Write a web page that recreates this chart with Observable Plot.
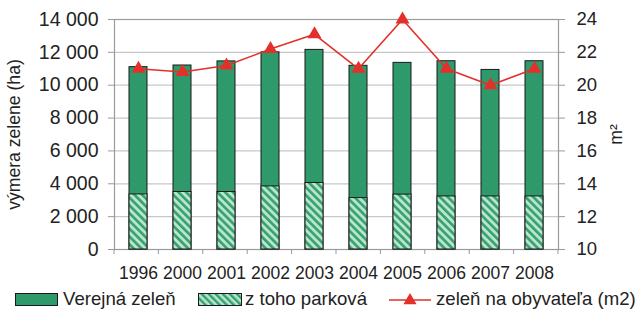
<!DOCTYPE html>
<html>
<head>
<meta charset="utf-8">
<script src="https://cdn.jsdelivr.net/npm/d3@7"></script>
<script src="https://cdn.jsdelivr.net/npm/@observablehq/plot@0.6"></script>
<style>
  body { margin: 0; background: #fff; font-family: "Liberation Sans", Arial, sans-serif; }
  #wrap { width: 643px; height: 311px; position: relative; overflow: hidden; }
  #legend { position: absolute; left: 0; top: 287px; height: 24px; width: 643px; font-size: 18.6px; color: #222; }
  .sw { position: absolute; top: 5px; }
  .lbl { position: absolute; top: 1px; line-height: 22px; white-space: nowrap; }
</style>
</head>
<body>
<div id="wrap"><div id="chart"></div><div id="legend"></div></div>
<script>
const years = ["1996","2000","2001","2002","2003","2004","2005","2006","2007","2008"];
const verejnaZelen = [11100, 11200, 11450, 12000, 12150, 11180, 11360, 11460, 10930, 11460];
const parkova = [3350, 3500, 3500, 3840, 4050, 3130, 3340, 3230, 3230, 3230];
const naObyvatela = [21.0, 20.8, 21.2, 22.2, 23.1, 21.0, 24.0, 21.0, 20.0, 21.0];
const leftTicks = [0, 2000, 4000, 6000, 8000, 10000, 12000, 14000];
const rightTicks = [10, 12, 14, 16, 18, 20, 22, 24];

const GREEN = "#2e9a6c";
const RED = "#e3302a";
const rows = years.map((y, i) => ({year: y, total: verejnaZelen[i], park: parkova[i], m2: naObyvatela[i]}));
// right axis (10..24 m2) mapped onto left scale (0..14000 ha)
const toLeft = v => (v - 10) * 1000;
const fromLeft = d => d / 1000 + 10;
const fmt = d => d3.format(",")(d).replace(/,/g, " ");

const W = 643, H = 287, ML = 114, MR = 85, MT = 19, MB = 38;

const bandTicks = (index, scales, values, dims) => {
  const g = d3.create("svg:g");
  const step = (dims.width - dims.marginLeft - dims.marginRight) / years.length;
  const y0 = dims.height - dims.marginBottom;
  for (let i = 0; i <= years.length; i++) {
    const x = dims.marginLeft + i * step;
    g.append("line").attr("x1", x).attr("x2", x).attr("y1", y0).attr("y2", y0 + 5)
      .attr("stroke", "#999").attr("stroke-width", 1);
  }
  return g.node();
};

const chart = Plot.plot({
  width: W, height: H,
  marginLeft: ML, marginRight: MR, marginTop: MT, marginBottom: MB,
  style: {fontFamily: "Liberation Sans, Arial, sans-serif", fontSize: "17.5px", color: "#222", background: "#fff"},
  x: {type: "band", domain: years, paddingInner: 0.595, paddingOuter: 0.2975},
  y: {domain: [0, 14000]},
  marks: [
    Plot.ruleY(leftTicks, {stroke: "#c8c8c8", strokeWidth: 1.2}),
    Plot.frame({stroke: "#9a9a9a", strokeWidth: 1.2}),
    Plot.barY(rows, {x: "year", y: "total", fill: GREEN, stroke: "#1a1a1a", strokeWidth: 1}),
    Plot.barY(rows, {x: "year", y: "park", fill: "url(#hatch)", stroke: "#1a1a1a", strokeWidth: 1}),
    Plot.line(rows, {x: "year", y: d => toLeft(d.m2), stroke: RED, strokeWidth: 1.6}),
    Plot.dot(rows, {x: "year", y: d => toLeft(d.m2), symbol: "triangle", r: 5.2, fill: RED, stroke: "none"}),
    Plot.axisX({tickSize: 0, tickPadding: 17, fontSize: 17.5, label: null}),
    bandTicks,
    Plot.axisY({anchor: "left", ticks: leftTicks, tickFormat: fmt, tickSize: 6, tickPadding: 10,
      stroke: "#999", fontSize: 19.5, label: "výmera zelene (ha)", labelAnchor: "center", labelOffset: 107, labelArrow: "none"}),
    Plot.axisY({anchor: "right", ticks: rightTicks.map(toLeft), tickFormat: fromLeft, tickSize: 6, tickPadding: 12,
      stroke: "#999", fontSize: 18.5, label: "m²", labelAnchor: "center", labelOffset: 63, labelArrow: "none"})
  ]
});

// axis titles slightly smaller than tick labels
d3.select(chart).selectAll('[aria-label="y-axis label"]').style("font-size", "17.6px");

// hatch pattern definition
const defs = d3.select(chart).insert("defs", ":first-child");
const pat = defs.append("pattern").attr("id", "hatch").attr("patternUnits", "userSpaceOnUse")
  .attr("width", 5.5).attr("height", 5.5).attr("patternTransform", "rotate(-45)");
pat.append("rect").attr("width", 5.5).attr("height", 5.5).attr("fill", "#b9e5cc");
pat.append("rect").attr("width", 2.6).attr("height", 5.5).attr("fill", "#34a070");

document.getElementById("chart").appendChild(chart);

// legend
const legend = d3.select("#legend");
const items = [
  {sx: 15, tx: 63, label: "Verejná zeleň", kind: "solid"},
  {sx: 198, tx: 245, label: "z toho parková", kind: "hatch"},
  {sx: 389, tx: 436, label: "zeleň na obyvateľa (m2)", kind: "line"}
];
items.forEach(it => {
  const s = legend.append("svg").attr("class", "sw").style("left", it.sx + "px").attr("width", 45).attr("height", 15);
  if (it.kind === "solid") {
    s.append("rect").attr("x", 0.5).attr("y", 1.5).attr("width", 42).attr("height", 12).attr("fill", GREEN).attr("stroke", "#1a1a1a");
  } else if (it.kind === "hatch") {
    const p = s.append("defs").append("pattern").attr("id", "hatchL").attr("patternUnits", "userSpaceOnUse")
      .attr("width", 5).attr("height", 5).attr("patternTransform", "rotate(-45)");
    p.append("rect").attr("width", 5).attr("height", 5).attr("fill", "#b9e5cc");
    p.append("rect").attr("width", 2.4).attr("height", 5).attr("fill", "#34a070");
    s.append("rect").attr("x", 0.5).attr("y", 1.5).attr("width", 43).attr("height", 12).attr("fill", "url(#hatchL)").attr("stroke", "#1a1a1a");
  } else {
    s.append("line").attr("x1", 0).attr("x2", 42).attr("y1", 8).attr("y2", 8).attr("stroke", RED).attr("stroke-width", 1.6);
    s.append("path").attr("d", d3.symbol(d3.symbolTriangle, 75)()).attr("transform", "translate(21,8.5)").attr("fill", RED);
  }
  legend.append("span").attr("class", "lbl").style("left", it.tx + "px").text(it.label);
});
</script>
</body>
</html>
